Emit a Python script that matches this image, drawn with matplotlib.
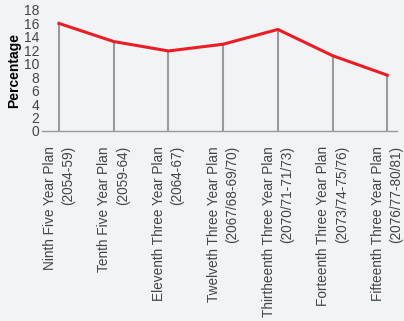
import matplotlib
matplotlib.use("Agg")
import matplotlib.pyplot as plt

plt.rcParams['font.family'] = ['Liberation Sans', 'DejaVu Sans']

plans = ['Ninth Five Year Plan\n(2054-59)',
         'Tenth Five Year Plan\n(2059-64)',
         'Eleventh Three Year Plan\n(2064-67)',
         'Twelveth Three Year Plan\n(2067/68-69/70)',
         'Thirtheenth Three Year Plan\n(2070/71-71/73)',
         'Forteenth Three Year Plan\n(2073/74-75/76)',
         'Fifteenth Three Year Plan\n(2076/77-80/81)']
percentage = [16.0, 13.3, 11.9, 12.9, 15.1, 11.2, 8.3]
yticks = list(range(0, 19, 2))

bg = '#f2f3f5'
fig = plt.figure(figsize=(4.04, 3.21), dpi=100, facecolor=bg)
ax = fig.add_axes([0.104, 0.592, 0.879, 0.377], facecolor=bg)

x = list(range(len(plans)))
ax.vlines(x, 0, percentage, color='#9a9a9a', linewidth=1.5, zorder=1)
ax.plot(x, percentage, color='#ec1c24', linewidth=2.2, zorder=2)

ax.set_xlim(-0.31, 6.18)
ax.set_ylim(0, 18)
ax.set_yticks(yticks)
ax.set_xticks(x)
ax.set_xticklabels(plans, rotation=90, fontsize=9.8, color='#444444',
                   ha='center', va='top', multialignment='right',
                   linespacing=1.4)
ax.tick_params(axis='y', length=0, labelsize=10, labelcolor='#444444', pad=2)
ax.tick_params(axis='x', length=0, pad=11)

for s in ['top', 'right', 'left']:
    ax.spines[s].set_visible(False)
ax.spines['bottom'].set_color('#9a9a9a')
ax.spines['bottom'].set_linewidth(1.0)

ax.set_ylabel('Percentage', fontsize=10, fontweight='bold', labelpad=2)

fig.savefig('out.png', dpi=100, facecolor=bg)
